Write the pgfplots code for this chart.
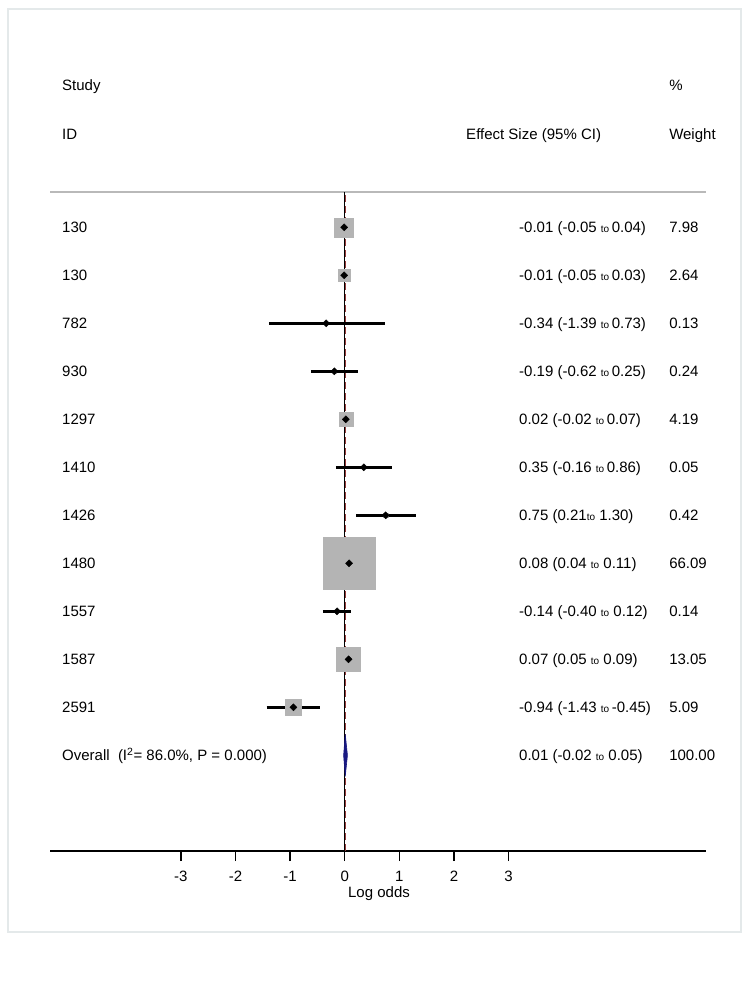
\documentclass[border=0pt]{standalone}
\usepackage{fontspec}
\setmainfont{Liberation Sans}
\usepackage{pgfplots}
\usepackage{pgfplotstable}
\pgfplotsset{compat=1.18}
\definecolor{boxgray}{RGB}{180,180,180}
\definecolor{sepgray}{RGB}{185,185,185}
\definecolor{framegray}{RGB}{228,233,234}
\definecolor{ovnavy}{RGB}{25,25,130}
\definecolor{ovred}{RGB}{150,60,60}
\newcommand{\F}{\fontsize{15}{18}\selectfont}
\newcommand{\tto}{{\fontsize{10}{12}\selectfont to}}

\pgfplotstableread{
y     es     lo     hi
772.7 -0.01 -0.05  0.04
724.7 -0.01 -0.05  0.03
676.7 -0.34 -1.39  0.73
628.7 -0.19 -0.62  0.25
580.7  0.02 -0.02  0.07
532.7  0.35 -0.16  0.86
484.7  0.75  0.21  1.30
436.7  0.08  0.04  0.11
388.7 -0.14 -0.40  0.12
340.7  0.07  0.05  0.09
292.7 -0.94 -1.43 -0.45
}\studies

\begin{document}
\begin{tikzpicture}
\begin{axis}[
  scale only axis, width=656pt, height=659pt,
  xmin=-5.397, xmax=6.617, ymin=149, ymax=808,
  axis x line*=bottom, axis y line=none,
  x axis line style={black, line width=1.3pt, -},
  xtick={-3,-2,-1,0,1,2,3},
  tick align=outside, major tick length=10pt,
  tick style={black, line width=1.3pt},
  xticklabel style={anchor=north, inner sep=0pt, yshift=-9.7pt, font=\F},
  /pgf/number format/assume math mode=true,
  clip=false,
]
% frame and bounding box
\path (axis cs:-6.313,0) rectangle (axis cs:7.423,1000);
\draw[framegray, line width=1.5pt] (axis cs:-6.167,991) rectangle (axis cs:7.258,68);

% separator line
\addplot[sepgray, line width=2pt, forget plot] coordinates {(-5.397,808) (6.617,808)};

% null line and overall line
\addplot[black, line width=1.2pt, forget plot] coordinates {(0,149) (0,808)};
\addplot[ovred, line width=1.1pt, dash pattern=on 7pt off 4pt, forget plot] coordinates {(0.01,149) (0.01,808)};

% weight boxes
\addplot[only marks, mark=square*, color=boxgray, mark size=9.5pt] coordinates {(-0.01,772.7)};
\addplot[only marks, mark=square*, color=boxgray, mark size=6pt] coordinates {(-0.01,724.7)};
\addplot[only marks, mark=square*, color=boxgray, mark size=1.15pt] coordinates {(-0.34,676.7)};
\addplot[only marks, mark=square*, color=boxgray, mark size=1.5pt] coordinates {(-0.19,628.7)};
\addplot[only marks, mark=square*, color=boxgray, mark size=7pt] coordinates {(0.02,580.7)};
\addplot[only marks, mark=square*, color=boxgray, mark size=0.75pt] coordinates {(0.35,532.7)};
\addplot[only marks, mark=square*, color=boxgray, mark size=2.1pt] coordinates {(0.75,484.7)};
\addplot[only marks, mark=square*, color=boxgray, mark size=26pt] coordinates {(0.08,436.7)};
\addplot[only marks, mark=square*, color=boxgray, mark size=1.2pt] coordinates {(-0.14,388.7)};
\addplot[only marks, mark=square*, color=boxgray, mark size=12pt] coordinates {(0.07,340.7)};
\addplot[only marks, mark=square*, color=boxgray, mark size=8pt] coordinates {(-0.94,292.7)};

% confidence intervals
\addplot[black, line width=2.6pt] coordinates {(-0.05,772.7) (0.04,772.7)};
\addplot[black, line width=2.6pt] coordinates {(-0.05,724.7) (0.03,724.7)};
\addplot[black, line width=2.6pt] coordinates {(-1.39,676.7) (0.73,676.7)};
\addplot[black, line width=2.6pt] coordinates {(-0.62,628.7) (0.25,628.7)};
\addplot[black, line width=2.6pt] coordinates {(-0.02,580.7) (0.07,580.7)};
\addplot[black, line width=2.6pt] coordinates {(-0.16,532.7) (0.86,532.7)};
\addplot[black, line width=2.6pt] coordinates {(0.21,484.7) (1.30,484.7)};
\addplot[black, line width=2.6pt] coordinates {(0.04,436.7) (0.11,436.7)};
\addplot[black, line width=2.6pt] coordinates {(-0.40,388.7) (0.12,388.7)};
\addplot[black, line width=2.6pt] coordinates {(0.05,340.7) (0.09,340.7)};
\addplot[black, line width=2.6pt] coordinates {(-1.43,292.7) (-0.45,292.7)};

% point estimates
\addplot[only marks, mark=square*, mark size=2.5pt, mark options={rotate=45}, black] table[x=es, y=y] {\studies};

% overall diamond
\addplot[fill=ovnavy, draw=ovnavy, line width=0.6pt] coordinates {(-0.02,244.7) (0.01,265.7) (0.05,244.7) (0.01,223.7)} -- cycle;

% header text
\node[anchor=base west, inner sep=0pt, font=\F] at (axis cs:-5.178,909.3) {Study};
\node[anchor=base west, inner sep=0pt, font=\F] at (axis cs:-5.178,860.7) {ID};
\node[anchor=base west, inner sep=0pt, font=\F] at (axis cs:2.222,860.7) {Effect Size (95\% CI)};
\node[anchor=base west, inner sep=0pt, font=\F] at (axis cs:5.940,909.3) {\%};
\node[anchor=base west, inner sep=0pt, font=\F] at (axis cs:5.940,860.7) {Weight};

% study labels
\node[anchor=base west, inner sep=0pt, font=\F] at (axis cs:-5.178,767.2) {130};
\node[anchor=base west, inner sep=0pt, font=\F] at (axis cs:-5.178,719.2) {130};
\node[anchor=base west, inner sep=0pt, font=\F] at (axis cs:-5.178,671.2) {782};
\node[anchor=base west, inner sep=0pt, font=\F] at (axis cs:-5.178,623.2) {930};
\node[anchor=base west, inner sep=0pt, font=\F] at (axis cs:-5.178,575.2) {1297};
\node[anchor=base west, inner sep=0pt, font=\F] at (axis cs:-5.178,527.2) {1410};
\node[anchor=base west, inner sep=0pt, font=\F] at (axis cs:-5.178,479.2) {1426};
\node[anchor=base west, inner sep=0pt, font=\F] at (axis cs:-5.178,431.2) {1480};
\node[anchor=base west, inner sep=0pt, font=\F] at (axis cs:-5.178,383.2) {1557};
\node[anchor=base west, inner sep=0pt, font=\F] at (axis cs:-5.178,335.2) {1587};
\node[anchor=base west, inner sep=0pt, font=\F] at (axis cs:-5.178,287.2) {2591};
\node[anchor=base west, inner sep=0pt, font=\F] at (axis cs:-5.178,239.2) {Overall\ \ (I\textsuperscript{2}= 86.0\%, P = 0.000)};

% effect sizes
\node[anchor=base west, inner sep=0pt, font=\F] at (axis cs:3.192,767.2) {-0.01 (-0.05 \tto\,0.04)};
\node[anchor=base west, inner sep=0pt, font=\F] at (axis cs:3.192,719.2) {-0.01 (-0.05 \tto\,0.03)};
\node[anchor=base west, inner sep=0pt, font=\F] at (axis cs:3.192,671.2) {-0.34 (-1.39 \tto\,0.73)};
\node[anchor=base west, inner sep=0pt, font=\F] at (axis cs:3.192,623.2) {-0.19 (-0.62 \tto\,0.25)};
\node[anchor=base west, inner sep=0pt, font=\F] at (axis cs:3.192,575.2) {0.02 (-0.02 \tto\,0.07)};
\node[anchor=base west, inner sep=0pt, font=\F] at (axis cs:3.192,527.2) {0.35 (-0.16 \tto\,0.86)};
\node[anchor=base west, inner sep=0pt, font=\F] at (axis cs:3.192,479.2) {0.75 (0.21\tto\ 1.30)};
\node[anchor=base west, inner sep=0pt, font=\F] at (axis cs:3.192,431.2) {0.08 (0.04 \tto\ 0.11)};
\node[anchor=base west, inner sep=0pt, font=\F] at (axis cs:3.192,383.2) {-0.14 (-0.40 \tto\ 0.12)};
\node[anchor=base west, inner sep=0pt, font=\F] at (axis cs:3.192,335.2) {0.07 (0.05 \tto\ 0.09)};
\node[anchor=base west, inner sep=0pt, font=\F] at (axis cs:3.192,287.2) {-0.94 (-1.43 \tto\,-0.45)};
\node[anchor=base west, inner sep=0pt, font=\F] at (axis cs:3.192,239.2) {0.01 (-0.02 \tto\ 0.05)};

% weights
\node[anchor=base west, inner sep=0pt, font=\F] at (axis cs:5.940,767.2) {7.98};
\node[anchor=base west, inner sep=0pt, font=\F] at (axis cs:5.940,719.2) {2.64};
\node[anchor=base west, inner sep=0pt, font=\F] at (axis cs:5.940,671.2) {0.13};
\node[anchor=base west, inner sep=0pt, font=\F] at (axis cs:5.940,623.2) {0.24};
\node[anchor=base west, inner sep=0pt, font=\F] at (axis cs:5.940,575.2) {4.19};
\node[anchor=base west, inner sep=0pt, font=\F] at (axis cs:5.940,527.2) {0.05};
\node[anchor=base west, inner sep=0pt, font=\F] at (axis cs:5.940,479.2) {0.42};
\node[anchor=base west, inner sep=0pt, font=\F] at (axis cs:5.940,431.2) {66.09};
\node[anchor=base west, inner sep=0pt, font=\F] at (axis cs:5.940,383.2) {0.14};
\node[anchor=base west, inner sep=0pt, font=\F] at (axis cs:5.940,335.2) {13.05};
\node[anchor=base west, inner sep=0pt, font=\F] at (axis cs:5.940,287.2) {5.09};
\node[anchor=base west, inner sep=0pt, font=\F] at (axis cs:5.940,239.2) {100.00};

% axis title
\node[anchor=base, inner sep=0pt, font=\F] at (axis cs:0.628,103) {Log odds};
\end{axis}
\end{tikzpicture}
\end{document}
